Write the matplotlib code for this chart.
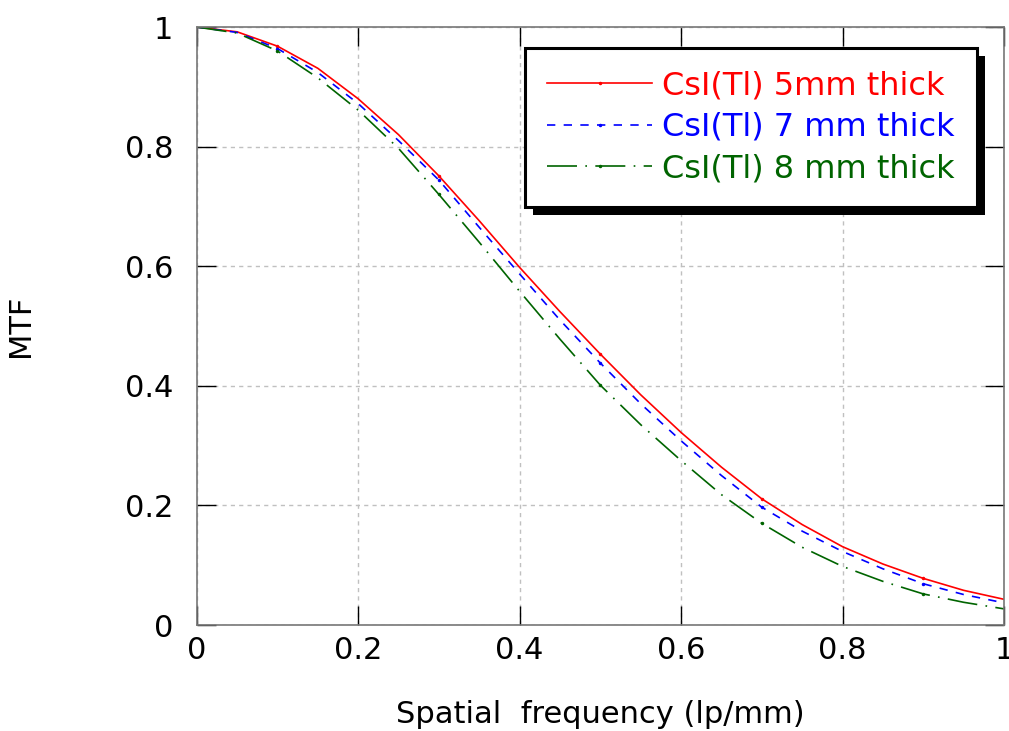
import matplotlib
matplotlib.use("Agg")
import matplotlib.pyplot as plt
from matplotlib.patches import Rectangle

plt.rcParams['font.family'] = ['DejaVu Sans']

# spatial frequency (lp/mm)
freq = [0.0, 0.05, 0.1, 0.15, 0.2, 0.25, 0.3, 0.35, 0.4, 0.45, 0.5,
        0.55, 0.6, 0.65, 0.7, 0.75, 0.8, 0.85, 0.9, 0.95, 1.0]

# MTF values
mtf_5mm = [1.0, 0.992, 0.968, 0.931, 0.88, 0.82, 0.751, 0.676, 0.598, 0.524, 0.453,
           0.385, 0.322, 0.264, 0.211, 0.168, 0.131, 0.102, 0.078, 0.058, 0.043]
mtf_7mm = [1.0, 0.991, 0.964, 0.924, 0.872, 0.81, 0.744, 0.665, 0.587, 0.51, 0.438,
           0.37, 0.308, 0.25, 0.197, 0.157, 0.123, 0.094, 0.069, 0.051, 0.037]
mtf_8mm = [1.0, 0.99, 0.96, 0.915, 0.861, 0.797, 0.72, 0.64, 0.558, 0.478, 0.401,
           0.335, 0.275, 0.218, 0.17, 0.13, 0.098, 0.073, 0.052, 0.038, 0.027]

labels = ['CsI(Tl) 5mm thick', 'CsI(Tl) 7 mm thick', 'CsI(Tl) 8 mm thick']
colors = ['#ff0000', '#0000ff', '#006400']
ticks = [0, 0.2, 0.4, 0.6, 0.8, 1]
tick_labels = ['0', '0.2', '0.4', '0.6', '0.8', '1']

fig = plt.figure(figsize=(10.09, 7.31), dpi=100)
ax = fig.add_axes([0.195, 0.145, 0.8, 0.818])

ax.plot(freq, mtf_5mm, color=colors[0], lw=1.2, ls='-',
        marker='.', ms=3, markevery=(2, 4), label=labels[0])
ax.plot(freq, mtf_7mm, color=colors[1], lw=1.2, ls=(0, (5, 5)),
        marker='.', ms=3, markevery=(2, 4), label=labels[1])
ax.plot(freq, mtf_8mm, color=colors[2], lw=1.2, ls=(0, (18, 5, 1, 5)),
        marker='.', ms=3, markevery=(2, 4), label=labels[2])

ax.set_xlim(0, 1)
ax.set_ylim(0, 1)
ax.set_xticks(ticks)
ax.set_xticklabels(tick_labels)
ax.set_yticks(ticks)
ax.set_yticklabels(tick_labels)
ax.grid(True, color='#c0c0c0', ls=(0, (3, 3)), lw=1)
ax.tick_params(direction='in', length=14, width=1, color='black',
               top=True, right=True, labelsize=22)
ax.tick_params(axis='x', pad=8)
ax.tick_params(axis='y', pad=17)
for s in ax.spines.values():
    s.set_color('#777777')
    s.set_linewidth(1.2)

ax.set_xlabel('Spatial  frequency (lp/mm)', fontsize=22)
ax.set_ylabel('MTF', fontsize=22)
ax.xaxis.set_label_coords(0.5, -0.125)
ax.yaxis.set_label_coords(-0.2, 0.5)

leg = ax.legend(loc='upper right', bbox_to_anchor=(0.9665, 0.965), borderaxespad=0,
                fontsize=23, labelcolor='linecolor', fancybox=False, framealpha=1,
                edgecolor='black', handlelength=3.3, handletextpad=0.3,
                borderpad=0.7, labelspacing=0.33)
leg.get_frame().set_linewidth(2.2)

# drop shadow behind the legend box
fig.canvas.draw()
bb = leg.get_window_extent()
shadow = Rectangle((bb.x0 + 8, bb.y0 - 8), bb.width, bb.height, transform=None,
                   facecolor='black', edgecolor='none', zorder=4.9)
ax.add_artist(shadow)
leg.set_zorder(5)

fig.savefig('out.png', dpi=100)
